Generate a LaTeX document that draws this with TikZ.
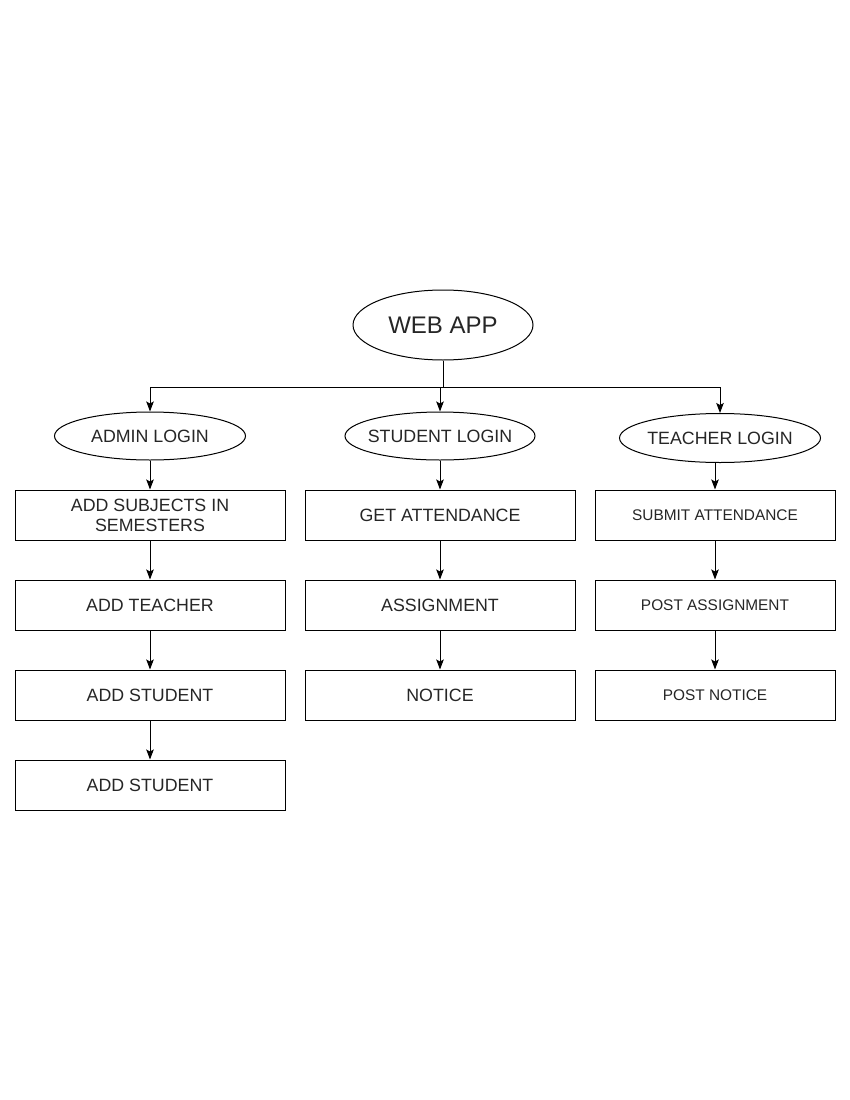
\documentclass[tikz,border=0pt]{standalone}
\usepackage{fontspec}
\setmainfont{Liberation Sans}
\usetikzlibrary{shapes.geometric,arrows.meta}
\begin{document}
\begin{tikzpicture}[x=1pt,y=-1pt,
  every node/.style={font=\fontsize{17.8}{20}\selectfont, text=black!85},
  oval/.style={draw, ellipse, inner sep=0pt, line width=1pt},
  box/.style={draw, rectangle, inner sep=0pt, line width=1pt, minimum height=50pt, align=center},
  arr/.style={draw, line width=1pt, -{Stealth[length=10pt,width=7.5pt,inset=2pt]}},
  small/.style={font=\fontsize{15.4}{18}\selectfont}
]
\useasboundingbox[fill=white] (0,0) rectangle (850,1100);

\node[oval, minimum width=180pt, minimum height=70pt, label={[font=\fontsize{24}{28}\selectfont, text=black!85]center:WEB APP}] (web) at (443,325) {};

\node[oval, minimum width=191pt, minimum height=48pt, label={[font=\fontsize{17.8}{20}\selectfont, text=black!85]center:ADMIN LOGIN}] (admin) at (150,436) {};
\node[oval, minimum width=190pt, minimum height=48pt, label={[font=\fontsize{17.8}{20}\selectfont, text=black!85]center:STUDENT LOGIN}] (student) at (440,436) {};
\node[oval, minimum width=201pt, minimum height=49pt, label={[font=\fontsize{17.8}{20}\selectfont, text=black!85]center:TEACHER LOGIN}] (teacher) at (720,438) {};

\node[box, minimum width=270pt] (a1) at (150,515) {ADD SUBJECTS IN\\SEMESTERS};
\node[box, minimum width=270pt] (a2) at (150,605) {ADD TEACHER};
\node[box, minimum width=270pt] (a3) at (150,695) {ADD STUDENT};
\node[box, minimum width=270pt] (a4) at (150,785) {ADD STUDENT};

\node[box, minimum width=270pt] (s1) at (440,515) {GET ATTENDANCE};
\node[box, minimum width=270pt] (s2) at (440,605) {ASSIGNMENT};
\node[box, minimum width=270pt] (s3) at (440,695) {NOTICE};

\node[box, minimum width=240pt, small] (t1) at (715,515) {SUBMIT ATTENDANCE};
\node[box, minimum width=240pt, small] (t2) at (715,605) {POST ASSIGNMENT};
\node[box, minimum width=240pt, small] (t3) at (715,695) {POST NOTICE};

\coordinate (bus) at (443,387);
\draw[line width=1pt] (web.south) -- (bus);
\draw[arr] (bus) -| (admin.north);
\draw[arr] (bus) -| (student.north);
\draw[arr] (bus) -| (teacher.north);

\draw[arr] (admin.south) -- (a1.north);
\draw[arr] (a1.south) -- (a2.north);
\draw[arr] (a2.south) -- (a3.north);
\draw[arr] (a3.south) -- (a4.north);

\draw[arr] (student.south) -- (s1.north);
\draw[arr] (s1.south) -- (s2.north);
\draw[arr] (s2.south) -- (s3.north);

\draw[arr] (t1.north |- teacher.south) -- (t1.north);
\draw[arr] (t1.south) -- (t2.north);
\draw[arr] (t2.south) -- (t3.north);
\end{tikzpicture}
\end{document}
